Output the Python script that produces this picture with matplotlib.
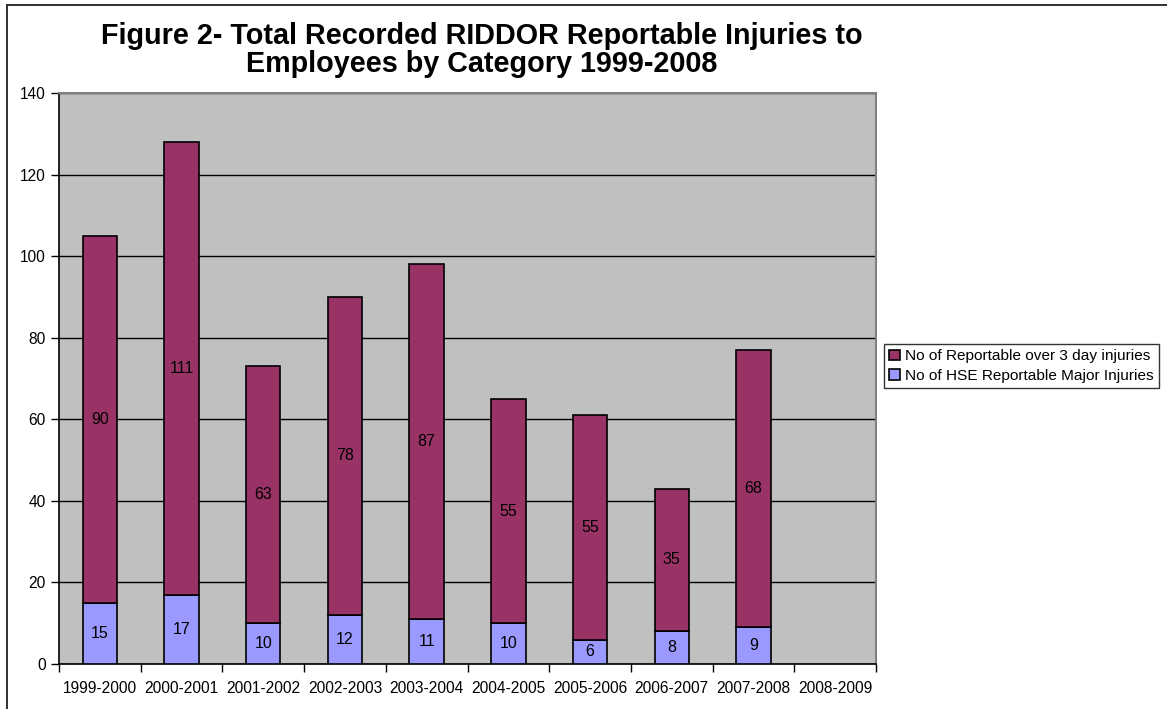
import numpy as np
import matplotlib.pyplot as plt
from matplotlib.patches import Rectangle

plt.rcParams['font.family'] = ['Liberation Sans', 'DejaVu Sans']

periods = ['1999-2000', '2000-2001', '2001-2002', '2002-2003', '2003-2004',
           '2004-2005', '2005-2006', '2006-2007', '2007-2008', '2008-2009']
major = [15, 17, 10, 12, 11, 10, 6, 8, 9, 0]
over3day = [90, 111, 63, 78, 87, 55, 55, 35, 68, 0]

col_major = '#9999ff'
col_over3 = '#993366'

fig = plt.figure(figsize=(11.67, 7.09), dpi=100)
# chart border (right and bottom edges run off the page)
fig.patches.append(Rectangle((7 / 1167, -0.1), 1.2, 1.1 - 5 / 709,
                             transform=fig.transFigure, fill=False,
                             edgecolor='#303030', linewidth=1.4))

ax = fig.add_axes([59 / 1167, 1 - 664 / 709, 817 / 1167, 571 / 709])
ax.set_facecolor('#c0c0c0')

x = np.arange(len(periods))
has = [i for i in range(len(periods)) if major[i] + over3day[i] > 0]
xs = x[has]
mj = np.array(major)[has]
ov = np.array(over3day)[has]
b1 = ax.bar(xs, mj, width=0.42, color=col_major, edgecolor='black',
            linewidth=1.2, label='No of HSE Reportable Major Injuries', zorder=3)
b2 = ax.bar(xs, ov, width=0.42, bottom=mj, color=col_over3,
            edgecolor='black', linewidth=1.2,
            label='No of Reportable over 3 day injuries', zorder=3)

for xi, m, o in zip(xs, mj, ov):
    ax.text(xi, m / 2, str(m), ha='center', va='center', fontsize=11.5,
            zorder=4)
    ax.text(xi, m + o / 2, str(o), ha='center', va='center', fontsize=11.5,
            zorder=4)

ax.set_xlim(-0.5, len(periods) - 0.5)
ax.set_ylim(0, 140)
ax.set_yticks(np.arange(0, 141, 20))
ax.yaxis.grid(True, color='black', linewidth=1.0, zorder=1)
ax.set_axisbelow(True)
ax.set_xticks(np.arange(-0.5, len(periods), 1), minor=False)
ax.set_xticklabels([])
ax.set_xticks(x, minor=True)
ax.set_xticklabels(periods, minor=True, fontsize=11.2)
ax.tick_params(axis='x', which='minor', length=0, pad=12)
ax.tick_params(axis='x', which='major', length=6, direction='out', width=1)
ax.tick_params(axis='y', length=6, direction='out', labelsize=11.2, width=1)
for s in ['top', 'right']:
    ax.spines[s].set_color('#808080')
    ax.spines[s].set_linewidth(1.5)
for s in ['left', 'bottom']:
    ax.spines[s].set_linewidth(1.2)

fig.text(482 / 1167, 1 - 50 / 709,
         'Figure 2- Total Recorded RIDDOR Reportable Injuries to\nEmployees by Category 1999-2008',
         ha='center', va='center', fontsize=20.7, fontweight='bold',
         linespacing=1.0)

leg = ax.legend(handles=[b2, b1], loc='center left',
                bbox_to_anchor=(884 / 1167, 1 - 366 / 709),
                bbox_transform=fig.transFigure, fontsize=11.1, frameon=True,
                fancybox=False, edgecolor='black', handlelength=0.7,
                handleheight=0.7, handletextpad=0.3, borderpad=0.35,
                labelspacing=0.35, borderaxespad=0)
leg.get_frame().set_linewidth(1.0)

fig.savefig('out.png', dpi=100)
